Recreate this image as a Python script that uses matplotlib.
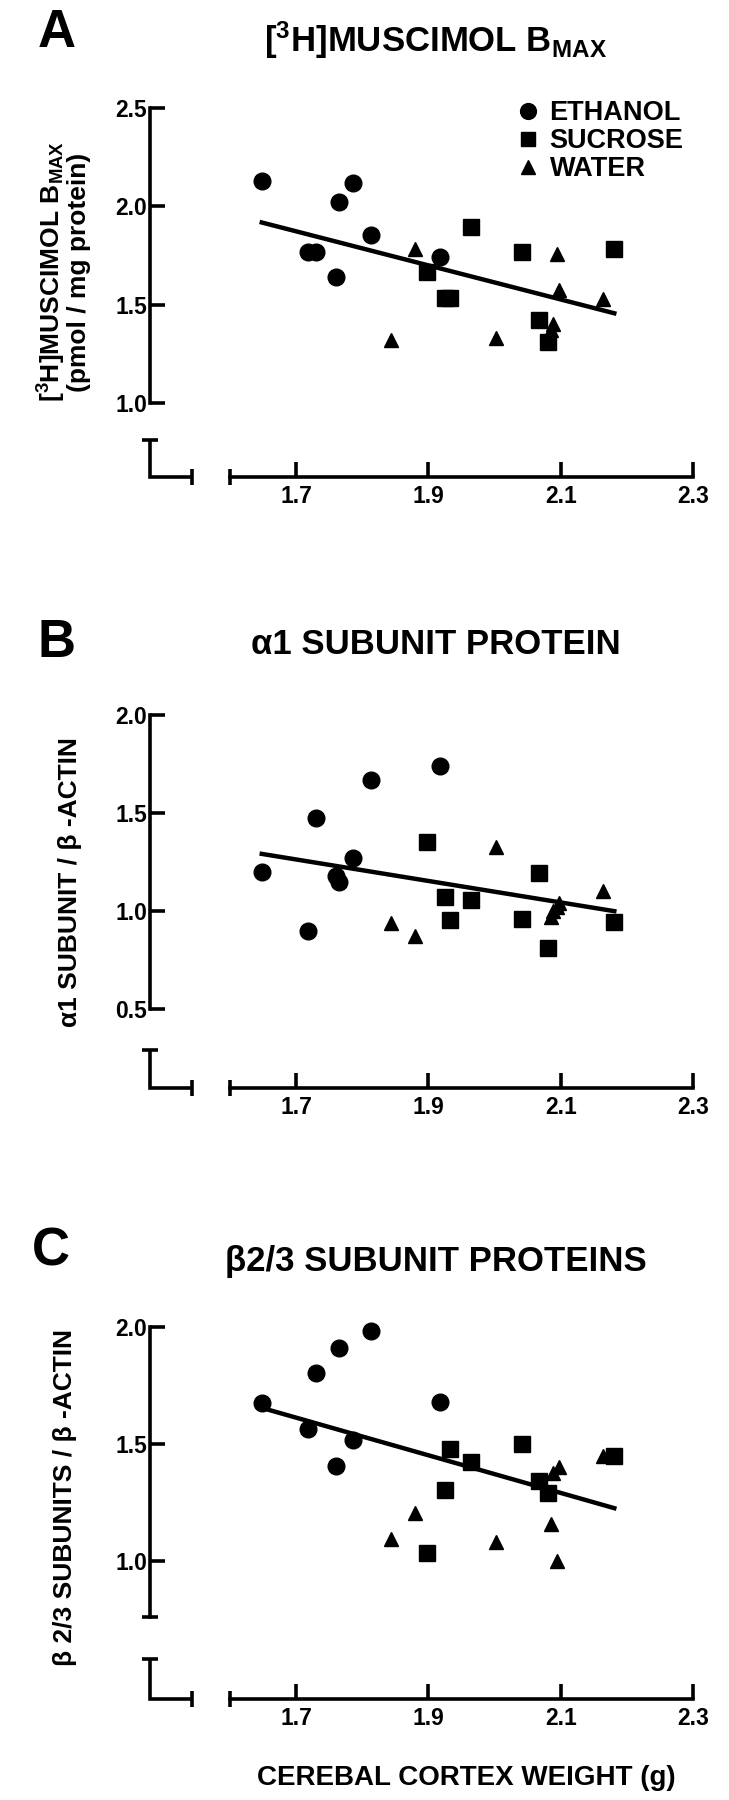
import numpy as np
import matplotlib
matplotlib.use("Agg")
import matplotlib.pyplot as plt

plt.rcParams["font.family"] = ["Liberation Sans", "DejaVu Sans"]
plt.rcParams["font.weight"] = "bold"
plt.rcParams["mathtext.fontset"] = "custom"
plt.rcParams["mathtext.rm"] = "Liberation Sans:bold"
plt.rcParams["mathtext.bf"] = "Liberation Sans:bold"
plt.rcParams["mathtext.default"] = "bf"

# cerebral cortex weight (g), one value per animal
groups = ["ETHANOL", "SUCROSE", "WATER"]
ethanol_weight = [1.648, 1.718, 1.730, 1.760, 1.765, 1.786, 1.813, 1.917]
sucrose_weight = [1.898, 1.925, 1.933, 1.965, 2.041, 2.067, 2.081, 2.181]
water_weight = [1.843, 1.879, 2.002, 2.086, 2.089, 2.094, 2.097, 2.164]

# A: [3H]muscimol Bmax (pmol / mg protein)
muscimol_ethanol = [2.13, 1.77, 1.77, 1.64, 2.02, 2.12, 1.855, 1.74]
muscimol_sucrose = [1.665, 1.535, 1.535, 1.895, 1.77, 1.42, 1.31, 1.785]
muscimol_water = [1.32, 1.785, 1.33, 1.37, 1.40, 1.76, 1.575, 1.53]

# B: alpha1 subunit / beta-actin
alpha1_ethanol = [1.20, 0.90, 1.475, 1.18, 1.15, 1.27, 1.67, 1.74]
alpha1_sucrose = [1.35, 1.07, 0.955, 1.055, 0.96, 1.195, 0.81, 0.945]
alpha1_water = [0.94, 0.875, 1.325, 0.97, 1.00, 1.02, 1.04, 1.10]

# C: beta2/3 subunits / beta-actin
beta23_ethanol = [1.675, 1.565, 1.805, 1.405, 1.91, 1.515, 1.985, 1.68]
beta23_sucrose = [1.035, 1.305, 1.48, 1.425, 1.50, 1.34, 1.29, 1.45]
beta23_water = [1.095, 1.205, 1.08, 1.16, 1.375, 1.00, 1.40, 1.45]

x_ticks = [1.7, 1.9, 2.1, 2.3]

W, H = 729, 1800
fig = plt.figure(figsize=(W / 100, H / 100), dpi=100)

LEFT, RIGHT = 150, 693  # pixel columns of y-axis and x=2.3
XMIN, XMAX = 1.479, 2.3
XSTUB = 1.542
LW = 2.6


def add_panel(top, bottom, ylim, ymain, ystub, yticks, eth, suc, wat, bottom_cap=False):
    ax = fig.add_axes([LEFT / W, 1 - bottom / H, (RIGHT - LEFT) / W, (bottom - top) / H])
    ax.set_xlim(XMIN, XMAX)
    ax.set_ylim(*ylim)
    ax.patch.set_visible(False)
    for s in ["top", "right"]:
        ax.spines[s].set_visible(False)
    for s in ["left", "bottom"]:
        ax.spines[s].set_linewidth(LW)
    ax.spines["left"].set_bounds(*ymain)
    ax.spines["bottom"].set_bounds(1.6, 2.3)
    ax.set_xticks(x_ticks)
    ax.set_xticklabels([f"{t:.1f}" for t in x_ticks])
    ax.set_yticks(yticks)
    ax.set_yticklabels([f"{t:.1f}" for t in yticks])
    ax.tick_params(direction="in", length=11, width=LW, labelsize=16.5)
    ax.tick_params(axis="y", pad=2)
    ax.tick_params(axis="x", pad=6)

    # broken-axis stub near the origin
    kw = dict(color="black", clip_on=False)
    ax.plot([XMIN, XMIN, XSTUB], [ystub, ylim[0], ylim[0]], lw=LW,
            solid_joinstyle="miter", solid_capstyle="butt", **kw)
    ax.plot([XMIN], [ystub], marker="_", ms=11, mew=LW, **kw)
    ax.plot([XSTUB], [ylim[0]], marker="|", ms=11, mew=LW, **kw)
    ax.plot([1.6], [ylim[0]], marker="|", ms=11, mew=LW, **kw)
    if bottom_cap:
        ax.plot([XMIN], [ymain[0]], marker="_", ms=11, mew=LW, **kw)

    ax.plot(ethanol_weight, eth, "o", ms=12, ls="none", label=groups[0], **kw)
    ax.plot(sucrose_weight, suc, "s", ms=11, ls="none", label=groups[1], **kw)
    ax.plot(water_weight, wat, "^", ms=10.5, ls="none", label=groups[2], **kw)

    xs = np.array(ethanol_weight + sucrose_weight + water_weight)
    ys = np.array(eth + suc + wat)
    coef = np.polyfit(xs, ys, 1)
    xl = np.array([xs.min(), xs.max()])
    ax.plot(xl, np.polyval(coef, xl), color="black", lw=3.2)
    return ax


axA = add_panel(108, 477, (0.624, 2.5), (1.0, 2.5), 0.813, [1.0, 1.5, 2.0, 2.5],
                muscimol_ethanol, muscimol_sucrose, muscimol_water)
axB = add_panel(715, 1088, (0.097, 2.0), (0.5, 2.0), 0.291, [0.5, 1.0, 1.5, 2.0],
                alpha1_ethanol, alpha1_sucrose, alpha1_water)
axC = add_panel(1327, 1699, (0.410, 2.0), (0.76, 2.0), 0.581, [1.0, 1.5, 2.0],
                beta23_ethanol, beta23_sucrose, beta23_water, bottom_cap=True)

axA.legend(loc="upper left", bbox_to_anchor=(517 / W, 1 - 100 / H),
           bbox_transform=fig.transFigure, frameon=False, fontsize=19.5,
           handlelength=0.8, handletextpad=0.4, labelspacing=0.08,
           borderpad=0, borderaxespad=0, markerscale=0.95)


def ftext(x, y, s, **kw):
    fig.text(x / W, 1 - y / H, s, ha="center", va="center", **kw)


ftext(57, 33, "A", fontsize=38, fontweight="bold")
ftext(56, 643, "B", fontsize=38, fontweight="bold")
ftext(51, 1252, "C", fontsize=38, fontweight="bold")

ftext(436, 40, r"[$^{3}$H]MUSCIMOL B$_{MAX}$", fontsize=25)
ftext(436, 645, "α1 SUBUNIT PROTEIN", fontsize=25)
ftext(436, 1262, "β2/3 SUBUNIT PROTEINS", fontsize=25)

ftext(63, 272, "[$^{3}$H]MUSCIMOL B$_{MAX}$\n(pmol / mg protein)", fontsize=19,
      rotation=90, multialignment="center", linespacing=0.95)
ftext(70, 882, "α1 SUBUNIT / β -ACTIN", fontsize=19, rotation=90)
ftext(65, 1497, "β 2/3 SUBUNITS / β -ACTIN", fontsize=19, rotation=90)

ftext(466, 1778, "CEREBAL CORTEX WEIGHT (g)", fontsize=20)

fig.savefig("out.png", dpi=100)
